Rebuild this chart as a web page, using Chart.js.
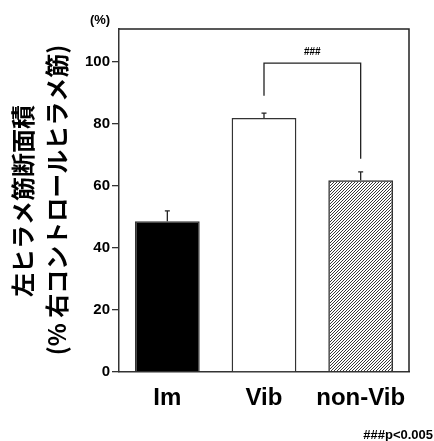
<!DOCTYPE html>
<html>
<head>
<meta charset="utf-8">
<script src="https://cdn.jsdelivr.net/npm/chart.js@4"></script>
<style>
    html, body { margin: 0; padding: 0; background: #fff; }
    #wrap { width: 434px; height: 441px; }
</style>
</head>
<body>
<div id="wrap"><canvas id="areaChart" width="434" height="441"></canvas></div>
<script>
const categories = ['Im', 'Vib', 'non-Vib'];
const means = [48.6, 81.8, 61.8];
const errors = [3.3, 1.6, 2.7];
const yTicks = [0, 20, 40, 60, 80, 100];
// bracket between Vib and non-Vib: top level, left leg end, right leg end
const bracketPair = [1, 2];
const bracketLevels = [99.5, 89, 68.7];

const jp = '"Noto Sans CJK JP", sans-serif';
const latin = '"Liberation Sans", Arial, sans-serif';

// hatch for the non-Vib bar
function hatch() {
    const c = document.createElement('canvas');
    c.width = 12; c.height = 12;
    const g = c.getContext('2d');
    g.strokeStyle = '#222';
    g.lineWidth = 0.9;
    g.beginPath();
    for (let k = -12; k <= 12; k += 3) {
        g.moveTo(k, 12);
        g.lineTo(k + 12, 0);
    }
    g.stroke();
    return g.createPattern(c, 'repeat');
}

const extras = {
    id: 'extras',
    afterDatasetsDraw(chart) {
        const { ctx, chartArea: a, scales: { y } } = chart;
        const bars = chart.getDatasetMeta(0).data;
        ctx.save();
        ctx.strokeStyle = '#222';
        ctx.lineWidth = 1.3;

        // error bars (upper only)
        bars.forEach((b, i) => {
            const yt = y.getPixelForValue(means[i] + errors[i]);
            ctx.beginPath();
            ctx.moveTo(b.x, b.y);
            ctx.lineTo(b.x, yt);
            ctx.moveTo(b.x - 2.5, yt);
            ctx.lineTo(b.x + 2.5, yt);
            ctx.stroke();
        });

        // significance bracket
        const x1 = bars[bracketPair[0]].x, x2 = bars[bracketPair[1]].x;
        const yTop = y.getPixelForValue(bracketLevels[0]);
        ctx.beginPath();
        ctx.moveTo(x1, y.getPixelForValue(bracketLevels[1]));
        ctx.lineTo(x1, yTop);
        ctx.lineTo(x2, yTop);
        ctx.lineTo(x2, y.getPixelForValue(bracketLevels[2]));
        ctx.stroke();

        ctx.fillStyle = '#000';
        ctx.font = 'bold 10px ' + latin;
        ctx.textAlign = 'center';
        ctx.textBaseline = 'bottom';
        ctx.fillText('###', (x1 + x2) / 2, yTop - 6);

        // top and right spines
        ctx.lineWidth = 1.5;
        ctx.beginPath();
        ctx.moveTo(a.left, a.top);
        ctx.lineTo(a.right, a.top);
        ctx.lineTo(a.right, a.bottom);
        ctx.stroke();

        // unit and note
        ctx.font = 'bold 13px ' + latin;
        ctx.textAlign = 'center';
        ctx.textBaseline = 'middle';
        ctx.fillText('(%)', 100, 20);
        ctx.textAlign = 'right';
        ctx.fillText('###p<0.005', 433, 435);

        // y title, two rotated lines
        ctx.font = 'bold 24px ' + jp;
        ctx.textAlign = 'center';
        ctx.save();
        ctx.translate(23, 201);
        ctx.rotate(-Math.PI / 2);
        ctx.fillText('左ヒラメ筋断面積', 0, 0);
        ctx.restore();
        ctx.save();
        ctx.translate(57, 200);
        ctx.rotate(-Math.PI / 2);
        ctx.fillText('(% 右コントロールヒラメ筋)', 0, 0);
        ctx.restore();

        ctx.restore();
    }
};

new Chart(document.getElementById('areaChart').getContext('2d'), {
    type: 'bar',
    data: {
        labels: categories,
        datasets: [{
            data: means,
            backgroundColor: ['#000000', '#ffffff', hatch()],
            borderColor: '#333',
            borderWidth: 1.5,
            borderSkipped: 'bottom',
            barPercentage: 0.67,
            categoryPercentage: 1
        }]
    },
    options: {
        responsive: false,
        animation: false,
        layout: { padding: { top: 29, right: 25, left: 0, bottom: 0 } },
        plugins: { legend: { display: false }, tooltip: { enabled: false } },
        scales: {
            x: {
                grid: { display: false },
                border: { display: true, color: '#333', width: 1.5 },
                ticks: { color: '#000', font: { family: latin, size: 24, weight: 'bold' }, padding: 4 },
                afterFit: s => { s.height = 69; }
            },
            y: {
                min: 0,
                max: 110.5,
                afterBuildTicks: s => { s.ticks = yTicks.map(v => ({ value: v })); },
                grid: { drawOnChartArea: false, drawTicks: true, tickLength: 7, color: '#333', lineWidth: 1.3 },
                border: { display: true, color: '#333', width: 1.5 },
                ticks: { color: '#000', font: { family: latin, size: 15, weight: 'bold' }, padding: 2 },
                afterFit: s => { s.width = 119; }
            }
        }
    },
    plugins: [extras]
});
</script>
</body>
</html>
